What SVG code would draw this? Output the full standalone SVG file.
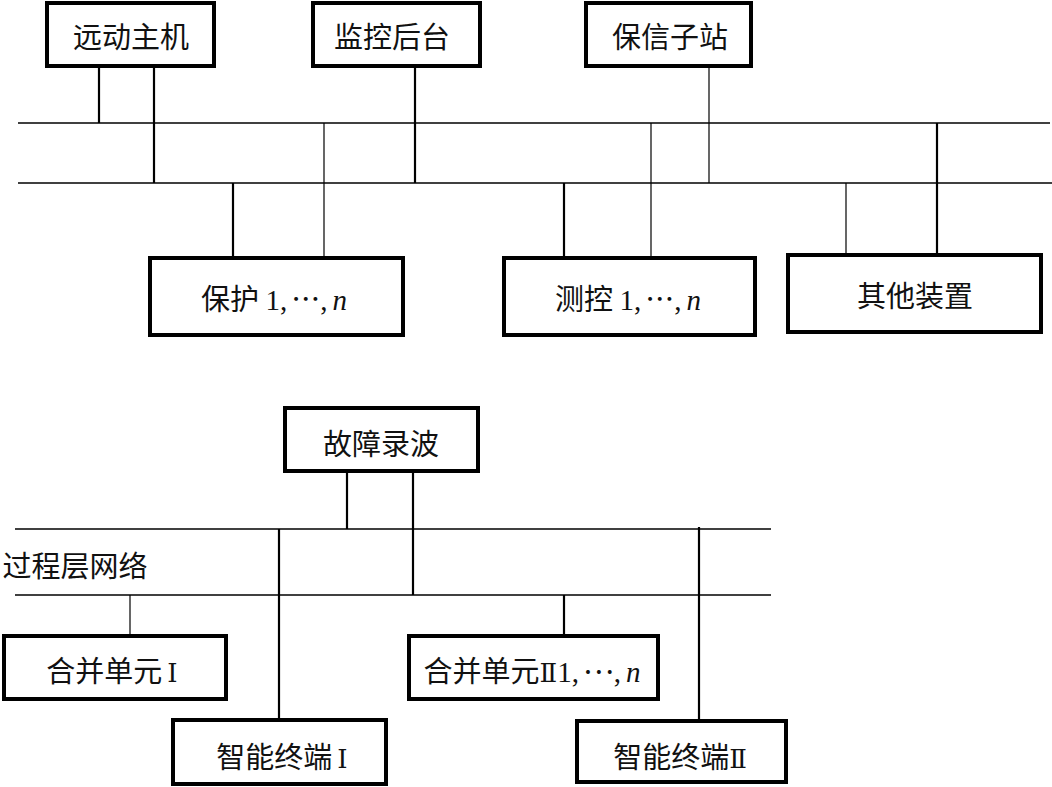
<svg xmlns="http://www.w3.org/2000/svg" width="1052" height="787" viewBox="0 0 1052 787">
<style>
.box{fill:#fff;stroke:#000;stroke-width:4}
.t{font-family:"Noto Sans CJK SC","Liberation Serif",serif;font-size:29px;fill:#111;text-anchor:middle}
.r{font-family:"Liberation Serif","Noto Sans CJK SC",serif}
.c{font-family:"Noto Sans CJK SC","DejaVu Sans",sans-serif}
.i{font-style:italic}
.rn{font-family:"DejaVu Serif","Noto Sans CJK SC",serif;font-size:26px}
.bus{stroke:#000;stroke-width:1.6;fill:none}
.thick{stroke:#000;stroke-width:2.2;fill:none}
.thin{stroke:#000;stroke-width:1.2;fill:none}
</style>
<rect width="1052" height="787" fill="#fff"/>
<g id="connectors">
<line class="bus" x1="18" y1="123" x2="1050" y2="123"/>
<line class="bus" x1="18" y1="183" x2="1052" y2="183"/>
<line class="thick" x1="99" y1="66" x2="99" y2="123"/>
<line class="thick" x1="154" y1="66" x2="154" y2="183"/>
<line class="thick" x1="415" y1="66" x2="415" y2="183"/>
<line class="thin" x1="709" y1="66" x2="709" y2="183"/>
<line class="thin" x1="324" y1="123" x2="324" y2="258"/>
<line class="thick" x1="233" y1="183" x2="233" y2="258"/>
<line class="thin" x1="651" y1="123" x2="651" y2="258"/>
<line class="thick" x1="564" y1="183" x2="564" y2="258"/>
<line class="thin" x1="846" y1="183" x2="846" y2="255"/>
<line class="thick" x1="937" y1="123" x2="937" y2="255"/>
<line class="bus" x1="15" y1="529" x2="771" y2="529"/>
<line class="bus" x1="15" y1="595" x2="771" y2="595"/>
<line class="thick" x1="347" y1="471" x2="347" y2="529"/>
<line class="thick" x1="413" y1="471" x2="413" y2="595"/>
<line class="thick" x1="279" y1="529" x2="279" y2="720"/>
<line class="thin" x1="130" y1="595" x2="130" y2="636"/>
<line class="thick" x1="564" y1="595" x2="564" y2="636"/>
<line class="thick" x1="699" y1="527" x2="699" y2="721"/>
</g>
<g id="yuandong"><rect class="box" x="47" y="3" width="167" height="63"/><text class="t" x="131" y="48">远动主机</text></g>
<g id="jiankong"><rect class="box" x="313" y="3" width="167" height="63"/><text class="t" x="392" y="48">监控后台</text></g>
<g id="baoxin"><rect class="box" x="586" y="3" width="165" height="63"/><text class="t" x="670" y="48">保信子站</text></g>
<g id="baohu"><rect class="box" x="150" y="258" width="253" height="77"/><text class="t" x="274" y="310">保护 <tspan class="r">1,</tspan><tspan class="c" dx="4">…</tspan><tspan class="r">,</tspan><tspan class="r i" dx="5">n</tspan></text></g>
<g id="cekong"><rect class="box" x="504" y="258" width="251" height="77"/><text class="t" x="628" y="310">测控 <tspan class="r">1,</tspan><tspan class="c" dx="4">…</tspan><tspan class="r">,</tspan><tspan class="r i" dx="5">n</tspan></text></g>
<g id="qita"><rect class="box" x="788" y="255" width="253" height="77"/><text class="t" x="915" y="307">其他装置</text></g>
<g id="guzhang"><rect class="box" x="285" y="408" width="193" height="63"/><text class="t" x="381" y="455">故障录波</text></g>
<g id="label"><text class="t" x="75" y="577">过程层网络</text></g>
<g id="hebing1"><rect class="box" x="4" y="636" width="222" height="63"/><text class="t" x="112" y="682">合并单元<tspan class="rn" dx="5">Ⅰ</tspan></text></g>
<g id="hebing2"><rect class="box" x="409" y="636" width="249" height="63"/><text class="t" x="532" y="682">合并单元<tspan class="rn">Ⅱ</tspan><tspan class="r">1,</tspan><tspan class="c" dx="4" dy="-8">…</tspan><tspan class="r" dy="8">,</tspan><tspan class="r i" dx="5">n</tspan></text></g>
<g id="zhineng1"><rect class="box" x="173" y="720" width="213" height="64"/><text class="t" x="282" y="768">智能终端<tspan class="rn" dx="5">Ⅰ</tspan></text></g>
<g id="zhineng2"><rect class="box" x="577" y="721" width="209" height="61"/><text class="t" x="680" y="768">智能终端<tspan class="rn">Ⅱ</tspan></text></g>
</svg>
